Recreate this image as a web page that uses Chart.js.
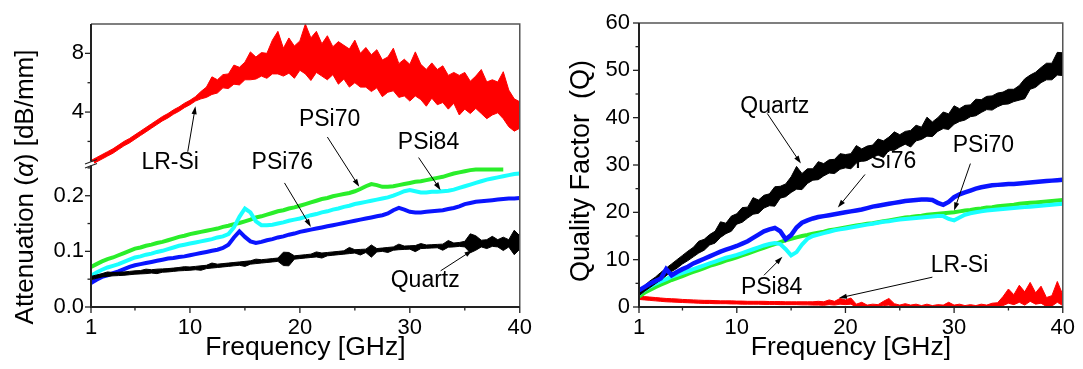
<!DOCTYPE html>
<html>
<head>
<meta charset="utf-8">
<script src="https://cdn.jsdelivr.net/npm/chart.js@4.4.0/dist/chart.umd.min.js"></script>
<style>
  body { margin: 0; background: #fff; }
  #wrap { position: relative; width: 1083px; height: 369px; }
  .box { position: absolute; top: 0; height: 369px; }
</style>
</head>
<body>
<div id="wrap">
  <div class="box" style="left:0;width:540px"><canvas id="att"></canvas></div>
  <div class="box" style="left:540px;width:543px"><canvas id="qf"></canvas></div>
</div>
<script>
// frequency grid in GHz
var freq = [1,1.5,2,2.5,3,3.5,4,4.5,5,5.5,6,6.5,7,7.5,8,8.5,9,9.5,10,10.5,
  11,11.5,12,12.5,13,13.5,14,14.5,15,15.5,16,16.5,17,17.5,18,18.5,19,19.5,20,20.5,
  21,21.5,22,22.5,23,23.5,24,24.5,25,25.5,26,26.5,27,27.5,28,28.5,29,29.5,30,30.5,
  31,31.5,32,32.5,33,33.5,34,34.5,35,35.5,36,36.5,37,37.5,38,38.5,39,39.5,40];

// attenuation [dB/mm]
var attPSi70 = [0.072,0.077,0.082,0.086,0.089,0.093,0.097,0.101,0.105,0.107,
  0.110,0.112,0.115,0.117,0.120,0.123,0.126,0.128,0.131,0.133,
  0.135,0.137,0.139,0.141,0.144,0.146,0.149,0.151,0.154,0.157,
  0.161,0.163,0.166,0.169,0.172,0.174,0.177,0.179,0.182,0.185,
  0.188,0.191,0.194,0.196,0.199,0.201,0.203,0.205,0.208,0.212,
  0.217,0.221,0.219,0.216,0.216,0.217,0.219,0.221,0.223,0.225,
  0.226,0.228,0.230,0.232,0.234,0.237,0.240,0.242,0.244,0.246,
  0.247,0.247,0.247,0.247,0.247,0.247];
var attPSi84 = [0.056,0.062,0.067,0.071,0.074,0.077,0.081,0.085,0.089,0.091,
  0.094,0.096,0.099,0.101,0.104,0.107,0.110,0.112,0.114,0.116,
  0.118,0.120,0.122,0.125,0.127,0.131,0.143,0.162,0.177,0.170,
  0.154,0.147,0.147,0.148,0.150,0.152,0.155,0.157,0.159,0.162,
  0.165,0.167,0.170,0.172,0.175,0.177,0.180,0.182,0.185,0.187,
  0.189,0.191,0.193,0.195,0.197,0.200,0.204,0.208,0.210,0.208,
  0.206,0.206,0.207,0.207,0.208,0.209,0.211,0.214,0.217,0.220,
  0.223,0.226,0.229,0.231,0.233,0.235,0.237,0.239,0.240];
var attPSi76 = [0.043,0.049,0.054,0.057,0.061,0.064,0.068,0.072,0.075,0.077,
  0.079,0.081,0.083,0.085,0.087,0.088,0.090,0.091,0.093,0.095,
  0.097,0.099,0.101,0.103,0.106,0.112,0.125,0.136,0.126,0.118,
  0.115,0.117,0.120,0.122,0.125,0.127,0.130,0.132,0.135,0.137,
  0.139,0.141,0.143,0.145,0.147,0.149,0.151,0.153,0.155,0.157,
  0.159,0.161,0.163,0.165,0.168,0.174,0.178,0.175,0.171,0.170,
  0.170,0.171,0.172,0.173,0.174,0.176,0.178,0.181,0.185,0.187,
  0.189,0.190,0.191,0.192,0.193,0.194,0.195,0.195,0.196];
// noisy traces: upper and lower edge of the band
var attQuartzHi = [0.055,0.0575,0.060,0.063,0.062,0.0625,0.063,0.064,0.065,0.0655,
  0.068,0.067,0.068,0.0685,0.069,0.070,0.071,0.0725,0.072,0.073,
  0.074,0.075,0.079,0.077,0.078,0.079,0.080,0.081,0.082,0.083,
  0.086,0.085,0.086,0.087,0.088,0.0985,0.098,0.092,0.093,0.094,
  0.095,0.099,0.097,0.098,0.099,0.100,0.101,0.107,0.103,0.1035,
  0.104,0.1115,0.105,0.106,0.107,0.108,0.113,0.1095,0.110,0.1105,
  0.114,0.1115,0.112,0.1125,0.113,0.1195,0.115,0.116,0.118,0.1315,
  0.128,0.120,0.121,0.127,0.121,0.1255,0.121,0.138,0.128];
var attQuartzLo = [0.049,0.0515,0.054,0.055,0.056,0.0565,0.057,0.058,0.059,0.0595,
  0.060,0.061,0.060,0.0625,0.063,0.064,0.065,0.0655,0.066,0.067,
  0.066,0.069,0.070,0.071,0.072,0.073,0.074,0.075,0.073,0.077,
  0.078,0.079,0.080,0.081,0.082,0.0745,0.074,0.086,0.087,0.088,
  0.089,0.090,0.088,0.092,0.093,0.094,0.095,0.096,0.097,0.0935,
  0.098,0.0895,0.099,0.100,0.098,0.102,0.103,0.1035,0.104,0.0995,
  0.105,0.1055,0.106,0.1065,0.102,0.1075,0.108,0.109,0.108,0.0975,
  0.102,0.108,0.105,0.109,0.108,0.1015,0.108,0.094,0.104];
var attLRSiHi = [0.7,0.9,1.1,1.3,1.5,1.75,2.0,2.2,2.45,2.7,
  2.95,3.2,3.45,3.7,3.9,4.15,4.35,4.6,4.8,5.05,
  5.4,5.7,6.4,6.2,6.55,6.6,7.2,7.05,7.4,8.1,
  7.75,8.05,8.0,8.9,9.5,8.35,9.05,8.5,8.85,10.0,
  9.05,9.5,8.65,9.2,8.45,8.8,8.55,8.3,8.9,8.0,
  8.4,7.9,8.25,7.55,7.75,8.35,7.3,7.6,7.25,8.1,
  7.25,6.9,7.35,6.9,7.15,6.5,6.7,6.5,6.7,6.1,
  6.45,6.9,6.05,6.2,6.05,6.75,5.5,4.9,4.7];
var attLRSiLo = [0.4,0.6,0.8,1.0,1.2,1.45,1.7,1.9,2.15,2.4,
  2.65,2.9,3.15,3.4,3.6,3.85,4.05,4.3,4.5,4.75,
  4.9,5.0,5.2,5.3,5.65,5.6,5.9,5.85,6.2,6.2,
  6.25,6.45,6.3,6.6,6.6,6.45,6.65,6.3,6.85,6.6,
  6.15,6.7,6.45,6.2,6.55,5.9,6.25,5.7,6.0,5.7,
  5.7,5.4,5.65,5.05,5.35,5.45,5.0,5.1,4.75,5.1,
  4.85,4.4,4.95,4.5,4.65,4.2,4.6,3.8,4.2,3.9,
  4.25,3.9,3.55,3.8,3.95,3.55,3.0,2.7,2.9];

// quality factor Q
var qfPSi76 = [3.5,4.2,4.9,5.5,6.0,8.0,6.7,7.4,8.0,8.5,
  9.2,9.7,10.2,10.7,11.2,11.7,12.1,12.5,12.9,13.4,
  13.9,14.6,15.3,16.0,16.4,16.7,16.0,14.3,15.2,16.8,
  17.8,18.3,18.7,19.0,19.2,19.4,19.6,19.8,20.0,20.2,
  20.4,20.6,20.9,21.2,21.4,21.6,21.8,22.0,22.2,22.4,
  22.5,22.6,22.7,22.7,22.6,22.0,21.6,22.2,23.2,23.8,
  24.2,24.6,25.0,25.3,25.5,25.7,25.8,25.9,26.0,26.0,
  26.1,26.2,26.3,26.4,26.5,26.6,26.7,26.8,26.9];
var qfPSi70 = [2.2,3.0,3.6,4.2,4.7,5.2,5.7,6.1,6.5,7.0,
  7.4,7.8,8.2,8.7,9.0,9.4,9.8,10.1,10.5,10.9,
  11.3,11.7,12.1,12.5,12.9,13.3,13.7,14.1,14.4,14.7,
  15.0,15.2,15.5,15.7,15.9,16.2,16.4,16.6,16.8,17.0,
  17.2,17.4,17.6,17.7,17.9,18.1,18.3,18.5,18.7,18.9,
  19.0,19.2,19.3,19.5,19.6,19.7,19.8,19.9,20.0,20.2,
  20.4,20.5,20.7,20.8,21.0,21.1,21.3,21.4,21.5,21.6,
  21.8,21.9,22.0,22.1,22.2,22.3,22.4,22.5,22.6];
var qfPSi84 = [2.8,3.6,4.3,4.9,5.4,5.9,6.4,6.8,7.2,7.6,
  8.0,8.4,8.8,9.2,9.6,10.0,10.4,10.7,11.0,11.4,
  11.8,12.2,12.6,13.0,13.3,13.5,13.3,12.2,10.9,11.6,
  13.2,14.4,15.0,15.3,15.6,15.9,16.2,16.4,16.6,16.8,
  17.0,17.2,17.4,17.6,17.8,18.0,18.1,18.3,18.5,18.6,
  18.7,18.8,18.9,19.0,19.1,19.2,19.2,18.6,18.3,18.9,
  19.5,19.8,20.0,20.2,20.4,20.5,20.6,20.7,20.8,20.9,
  21.0,21.1,21.2,21.3,21.4,21.5,21.6,21.7,21.8];
var qfQuartzHi = [3.6,4.5,5.5,6.3,7.3,8.2,9.1,10.0,10.9,11.8,
  12.6,13.9,14.3,15.3,16.0,18.0,17.7,19.2,19.7,21.0,
  21.1,23.1,22.6,23.6,23.9,25.4,25.5,26.0,27.5,29.7,
  28.2,29.2,29.2,30.7,30.3,31.1,31.2,32.4,32.2,32.4,
  34.1,33.4,34.0,34.2,35.5,35.1,35.9,37.0,36.4,37.1,
  37.3,38.4,38.0,40.1,39.1,40.0,41.2,40.8,42.5,41.9,
  42.6,42.7,43.9,43.8,44.5,44.6,45.2,45.4,46.0,46.0,
  46.8,48.2,49.0,49.6,50.6,51.5,51.5,53.8,53.7];
var qfQuartzLo = [2.4,3.3,4.1,4.9,5.7,6.6,7.5,8.2,9.1,9.8,
  10.6,11.4,12.0,13.1,13.5,14.7,15.5,16.0,17.5,17.9,
  18.8,19.6,19.8,20.9,21.4,21.3,23.0,23.3,24.2,24.9,
  24.8,26.1,26.8,26.9,27.7,28.3,28.2,29.1,29.4,29.2,
  30.4,30.9,31.0,31.6,32.1,31.6,33.1,33.1,33.8,34.4,
  33.8,35.1,35.4,36.1,36.0,37.1,37.7,37.5,38.6,39.2,
  39.5,40.2,40.4,41.1,41.7,41.6,42.3,42.8,42.9,43.4,
  43.7,44.0,46.0,46.4,47.4,48.0,48.0,49.0,48.9];
var qfLRSiHi = [2.3,2.2,2.1,2.0,1.9,1.8,1.75,1.7,1.6,1.55,
  1.5,1.45,1.4,1.4,1.35,1.3,1.3,1.3,1.25,1.25,
  1.2,1.2,1.2,1.2,1.15,1.15,1.15,1.1,1.1,1.1,
  1.1,1.1,1.1,1.2,1.1,1.5,1.2,1.8,1.5,1.9,
  0.6,1.0,0.4,0.6,0.5,1.2,1.8,0.7,0.4,0.7,
  0.4,0.6,0.3,0.6,0.3,0.5,0.4,1.0,0.4,0.6,
  0.3,0.5,0.3,0.6,0.4,0.8,0.9,2.2,3.8,2.6,
  4.6,3.2,5.2,3.0,4.4,2.0,2.4,5.4,2.6];
var qfLRSiLo = [1.6,1.5,1.4,1.3,1.2,1.1,1.05,1.0,0.95,0.9,
  0.85,0.8,0.75,0.75,0.7,0.7,0.7,0.65,0.65,0.6,
  0.6,0.6,0.6,0.55,0.55,0.55,0.5,0.5,0.5,0.5,
  0.45,0.45,0.4,0.4,0.35,0.5,0.4,0.6,0.5,0.6,
  0.0,0.1,0.0,0.0,0.0,0.3,0.4,0.0,0.0,0.0,
  0.0,0.0,0.0,0.0,0.0,0.0,0.0,0.0,0.0,0.0,
  0.0,0.0,0.0,0.0,0.0,0.0,0.0,0.3,0.8,0.5,
  1.0,0.4,1.2,0.6,0.8,0.1,0.2,1.0,0.3];

// ticks
var xMajor = [1, 10, 20, 30, 40];
var xMinor = [5, 15, 25, 35];
var attLowMajor = [0, 0.1, 0.2];
var attLowMinor = [0.05, 0.15, 0.25];
var attTopMajor = [4, 8];
var attTopMinor = [2, 6];
var qfMajor = [0, 10, 20, 30, 40, 50, 60];
var qfMinor = [5, 15, 25, 35, 45, 55];

// labels with arrows (text pos, arrow tail, arrow head), in data units
var attNotes = [
  {text: 'LR-Si', x: 8.2, y: 0.259, ax: 'y', from: [9.8, 1.3, 'yTop'], to: [10.5, 4.4, 'yTop']},
  {text: 'PSi70', x: 22.7, y: 3.5, ax: 'yTop', from: [22.5, 2.3, 'yTop'], to: [25.4, 0.216, 'y']},
  {text: 'PSi84', x: 31.7, y: 1.9, ax: 'yTop', from: [30.8, 0.9, 'yTop'], to: [32.8, 0.210, 'y']},
  {text: 'PSi76', x: 18.4, y: 0.259, ax: 'y', from: [18.6, 0.223, 'y'], to: [21.0, 0.144, 'y']},
  {text: 'Quartz', x: 31.4, y: 0.048, ax: 'y', from: [32.8, 0.065, 'y'], to: [35.7, 0.102, 'y']}
];
var qfNotes = [
  {text: 'Quartz', x: 13.5, y: 42.4, ax: 'y', from: [12.8, 40.9, 'y'], to: [15.9, 30.3, 'y']},
  {text: 'PSi76', x: 23.7, y: 30.8, ax: 'y', from: [21.8, 28.0, 'y'], to: [19.3, 21.0, 'y']},
  {text: 'PSi70', x: 32.7, y: 34.1, ax: 'y', from: [31.5, 30.3, 'y'], to: [30.0, 20.4, 'y']},
  {text: 'PSi84', x: 13.2, y: 4.1, ax: 'y', from: [12.5, 6.7, 'y'], to: [14.2, 10.6, 'y']},
  {text: 'LR-Si', x: 30.5, y: 8.8, ax: 'y', from: [28.0, 6.3, 'y'], to: [19.4, 1.9, 'y']}
];

var FONT = "'Liberation Sans', Arial, sans-serif";

function pts(ys) {
    var out = [];
    for (var i = 0; i < ys.length; i++) {
        out.push({x: freq[i], y: ys[i]});
    }
    return out;
}

function line(label, ys, color, width, axis) {
    return {
        label: label,
        data: pts(ys),
        borderColor: color,
        backgroundColor: color,
        borderWidth: width,
        pointRadius: 0,
        tension: 0,
        yAxisID: axis || 'y'
    };
}

// noisy band: upper edge filled down to the lower edge (next dataset)
function band(label, hi, lo, color, axis) {
    var top = line(label, hi, color, 1, axis);
    top.fill = '+1';
    var bottom = line(label, lo, color, 1, axis);
    return [top, bottom];
}

function setTicks(list) {
    return function(scale) {
        scale.ticks = list.map(function(v) { return {value: v}; });
    };
}

function fixWidth(w) {
    return function(scale) { scale.width = w; };
}

var noGrid = {display: false, drawTicks: false};

function xScale() {
    return {
        type: 'linear', min: 1, max: 40,
        afterBuildTicks: setTicks(xMajor),
        afterFit: function(s) { s.height = 62; },
        grid: noGrid,
        border: {display: false},
        ticks: {color: '#000', font: {family: FONT, size: 22}, padding: 8, maxRotation: 0, autoSkip: false,
            callback: function(v) { return String(v); }},
        title: {display: true, text: 'Frequency [GHz]', color: '#000', font: {family: FONT, size: 26.5},
            padding: {top: 0, bottom: 5}}
    };
}

function drawTick(ctx, x, y, dx, dy) {
    ctx.beginPath();
    ctx.moveTo(x, y);
    ctx.lineTo(x + dx, y + dy);
    ctx.stroke();
}

function drawArrow(ctx, x1, y1, x2, y2) {
    var ang = Math.atan2(y2 - y1, x2 - x1);
    var len = 8, half = 2.6;
    ctx.beginPath();
    ctx.moveTo(x1, y1);
    ctx.lineTo(x2 - Math.cos(ang) * len * 0.8, y2 - Math.sin(ang) * len * 0.8);
    ctx.stroke();
    ctx.beginPath();
    ctx.moveTo(x2, y2);
    ctx.lineTo(x2 - Math.cos(ang) * len - Math.sin(ang) * half, y2 - Math.sin(ang) * len + Math.cos(ang) * half);
    ctx.lineTo(x2 - Math.cos(ang) * len + Math.sin(ang) * half, y2 - Math.sin(ang) * len - Math.cos(ang) * half);
    ctx.closePath();
    ctx.fill();
}

// frame, tick marks, axis break, y title and labelled arrows
var panelDeco = {
    id: 'panelDeco',
    afterDraw: function(chart, args, o) {
        var ctx = chart.ctx, a = chart.chartArea, xs = chart.scales.x;
        ctx.save();

        ctx.strokeStyle = '#555';
        ctx.lineWidth = 1.5;
        ctx.beginPath();
        ctx.moveTo(a.left, a.top);
        ctx.lineTo(a.right, a.top);
        ctx.lineTo(a.right, a.bottom);
        ctx.stroke();
        ctx.strokeStyle = '#222';
        ctx.lineWidth = 2;
        ctx.beginPath();
        ctx.moveTo(a.left, a.top);
        ctx.lineTo(a.left, a.bottom);
        ctx.lineTo(a.right, a.bottom);
        ctx.stroke();

        ctx.lineWidth = 1.3;
        xMajor.forEach(function(v) { drawTick(ctx, xs.getPixelForValue(v), a.bottom, 0, 6); });
        xMinor.forEach(function(v) { drawTick(ctx, xs.getPixelForValue(v), a.bottom, 0, 3.5); });
        o.yTicks.forEach(function(t) {
            var sc = chart.scales[t.axis];
            t.major.forEach(function(v) { drawTick(ctx, a.left, sc.getPixelForValue(v), -6, 0); });
            t.minor.forEach(function(v) { drawTick(ctx, a.left, sc.getPixelForValue(v), -3.5, 0); });
        });

        if (o.breakAxis) {
            var by = chart.scales[o.breakAxis].top;
            ctx.fillStyle = '#fff';
            ctx.fillRect(a.left - 3, by - 2, 6, 4);
            ctx.lineWidth = 1.2;
            ctx.strokeStyle = '#222';
            drawTick(ctx, a.left - 6, by + 0.5, 12, -4.5);
            drawTick(ctx, a.left - 6, by + 4.5, 12, -4.5);
        }

        // rotated y title
        ctx.fillStyle = '#000';
        ctx.translate(o.titleX, o.titleY);
        ctx.rotate(-Math.PI / 2);
        ctx.textBaseline = 'middle';
        ctx.textAlign = 'left';
        var total = 0;
        o.title.forEach(function(p) {
            ctx.font = p[1] + o.titleSize + 'px ' + FONT;
            total += ctx.measureText(p[0]).width;
        });
        var cx = -total / 2;
        o.title.forEach(function(p) {
            ctx.font = p[1] + o.titleSize + 'px ' + FONT;
            ctx.fillText(p[0], cx, 0);
            cx += ctx.measureText(p[0]).width;
        });
        ctx.setTransform(1, 0, 0, 1, 0, 0);

        ctx.font = '23px ' + FONT;
        ctx.textAlign = 'center';
        ctx.textBaseline = 'middle';
        ctx.fillStyle = '#000';
        ctx.strokeStyle = '#000';
        ctx.lineWidth = 1;
        o.notes.forEach(function(n) {
            ctx.fillText(n.text, xs.getPixelForValue(n.x), chart.scales[n.ax].getPixelForValue(n.y));
            drawArrow(ctx,
                xs.getPixelForValue(n.from[0]), chart.scales[n.from[2]].getPixelForValue(n.from[1]),
                xs.getPixelForValue(n.to[0]), chart.scales[n.to[2]].getPixelForValue(n.to[1]));
        });
        ctx.restore();
    }
};

var yTickFont = {family: FONT, size: 22};

new Chart(document.getElementById('att').getContext('2d'), {
    type: 'line',
    data: {
        datasets: [].concat(
            band('Quartz', attQuartzHi, attQuartzLo, '#000000'),
            [line('PSi76', attPSi76, '#0a14ff', 4),
             line('PSi84', attPSi84, '#19ffff', 4),
             line('PSi70', attPSi70, '#2aee2a', 4)],
            band('LR-Si', attLRSiHi, attLRSiLo, '#ff0000', 'yTop')
        )
    },
    options: {
        responsive: true,
        maintainAspectRatio: false,
        animation: false,
        layout: {padding: {top: 24, right: 19, left: 0, bottom: 0}},
        plugins: {
            legend: {display: false},
            tooltip: {enabled: false},
            panelDeco: {
                yTicks: [
                    {axis: 'y', major: attLowMajor, minor: attLowMinor},
                    {axis: 'yTop', major: attTopMajor, minor: attTopMinor}
                ],
                breakAxis: 'y',
                title: [['Attenuation (', ''], ['\u03b1', 'italic '], [') [dB/mm]', '']],
                titleSize: 26, titleX: 26, titleY: 187,
                notes: attNotes
            }
        },
        scales: {
            x: xScale(),
            y: {
                type: 'linear', position: 'left', stack: 'att', stackWeight: 143.4,
                min: 0, max: 0.258,
                afterBuildTicks: setTicks(attLowMajor),
                afterFit: fixWidth(91),
                grid: noGrid, border: {display: false},
                ticks: {color: '#000', font: yTickFont, padding: 7,
                    callback: function(v) { return v.toFixed(1); }}
            },
            yTop: {
                type: 'linear', position: 'left', stack: 'att', stackWeight: 139.3,
                min: 0.5, max: 10,
                afterBuildTicks: setTicks(attTopMajor),
                afterFit: fixWidth(91),
                grid: noGrid, border: {display: false},
                ticks: {color: '#000', font: yTickFont, padding: 7,
                    callback: function(v) { return String(v); }}
            }
        }
    },
    plugins: [panelDeco]
});

new Chart(document.getElementById('qf').getContext('2d'), {
    type: 'line',
    data: {
        datasets: [].concat(
            [line('PSi76', qfPSi76, '#0a14ff', 4.5)],
            band('Quartz', qfQuartzHi, qfQuartzLo, '#000000'),
            [line('PSi84', qfPSi84, '#19ffff', 4),
             line('PSi70', qfPSi70, '#2aee2a', 4)],
            band('LR-Si', qfLRSiHi, qfLRSiLo, '#ff0000')
        )
    },
    options: {
        responsive: true,
        maintainAspectRatio: false,
        animation: false,
        layout: {padding: {top: 23, right: 17, left: 0, bottom: 0}},
        plugins: {
            legend: {display: false},
            tooltip: {enabled: false},
            panelDeco: {
                yTicks: [{axis: 'y', major: qfMajor, minor: qfMinor}],
                breakAxis: null,
                title: [['Quality Factor  (Q)', '']],
                titleSize: 27, titleX: 42, titleY: 171,
                notes: qfNotes
            }
        },
        scales: {
            x: xScale(),
            y: {
                type: 'linear', position: 'left', min: 0, max: 60,
                afterBuildTicks: setTicks(qfMajor),
                afterFit: fixWidth(99),
                grid: noGrid, border: {display: false},
                ticks: {color: '#000', font: yTickFont, padding: 9,
                    callback: function(v) { return String(v); }}
            }
        }
    },
    plugins: [panelDeco]
});
</script>
</body>
</html>
